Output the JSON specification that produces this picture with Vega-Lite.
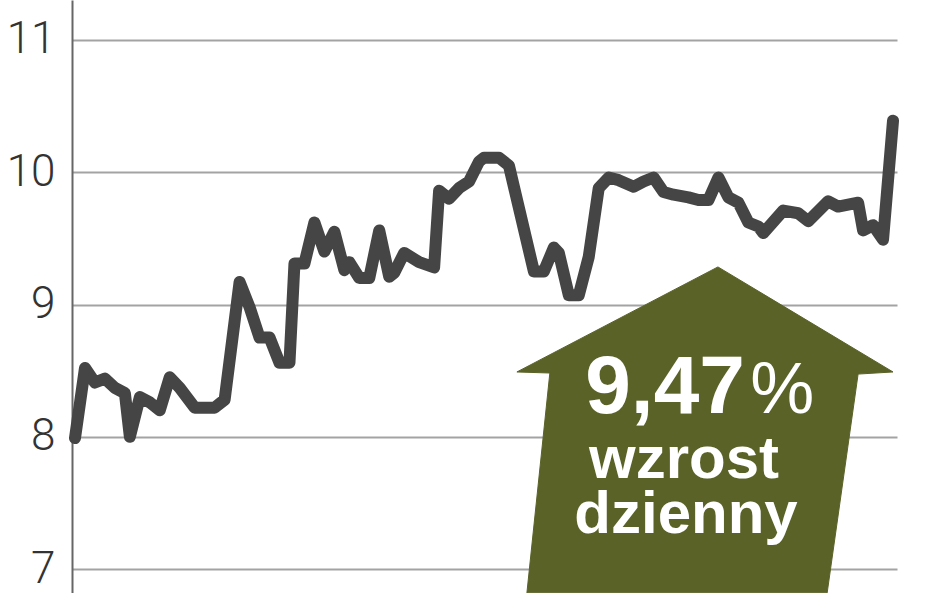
{
  "$schema": "https://vega.github.io/schema/vega-lite/v6.json",
  "width": 825,
  "height": 593,
  "autosize": {"type": "none"},
  "padding": {"left": 72, "right": 51, "top": 0, "bottom": 0},
  "background": "#ffffff",
  "config": {"view": {"stroke": null}},
  "datasets": {
    "prices": [
      {"day": 0, "value": 7.99}, {"day": 2, "value": 8.52}, {"day": 4, "value": 8.41}, {"day": 6, "value": 8.44},
      {"day": 8, "value": 8.37}, {"day": 10, "value": 8.33}, {"day": 11, "value": 8.0}, {"day": 13, "value": 8.3},
      {"day": 15, "value": 8.26}, {"day": 17, "value": 8.2}, {"day": 19, "value": 8.45}, {"day": 21, "value": 8.37},
      {"day": 24, "value": 8.22}, {"day": 28, "value": 8.22}, {"day": 30, "value": 8.28}, {"day": 33, "value": 9.17},
      {"day": 35, "value": 8.98}, {"day": 37, "value": 8.75}, {"day": 39, "value": 8.75}, {"day": 41, "value": 8.56},
      {"day": 43, "value": 8.56}, {"day": 44, "value": 9.31}, {"day": 46, "value": 9.31}, {"day": 48, "value": 9.62},
      {"day": 50, "value": 9.4}, {"day": 52, "value": 9.55}, {"day": 54, "value": 9.26}, {"day": 55, "value": 9.32},
      {"day": 57, "value": 9.2}, {"day": 59, "value": 9.2}, {"day": 61, "value": 9.56}, {"day": 63, "value": 9.21},
      {"day": 64, "value": 9.24}, {"day": 66, "value": 9.39}, {"day": 69, "value": 9.32}, {"day": 72, "value": 9.28},
      {"day": 73, "value": 9.86}, {"day": 75, "value": 9.8}, {"day": 77, "value": 9.88}, {"day": 79, "value": 9.93},
      {"day": 81, "value": 10.08}, {"day": 82, "value": 10.11}, {"day": 85, "value": 10.11}, {"day": 87, "value": 10.05},
      {"day": 92, "value": 9.25}, {"day": 94, "value": 9.25}, {"day": 96, "value": 9.43}, {"day": 97, "value": 9.39},
      {"day": 99, "value": 9.07}, {"day": 101, "value": 9.07}, {"day": 103, "value": 9.36}, {"day": 105, "value": 9.88},
      {"day": 107, "value": 9.96}, {"day": 109, "value": 9.94}, {"day": 112, "value": 9.89}, {"day": 114, "value": 9.93},
      {"day": 116, "value": 9.96}, {"day": 118, "value": 9.85}, {"day": 120, "value": 9.83}, {"day": 123, "value": 9.81},
      {"day": 125, "value": 9.79}, {"day": 127, "value": 9.79}, {"day": 129, "value": 9.96}, {"day": 131, "value": 9.81},
      {"day": 133, "value": 9.77}, {"day": 135, "value": 9.62}, {"day": 137, "value": 9.59}, {"day": 138, "value": 9.54},
      {"day": 142, "value": 9.71}, {"day": 145, "value": 9.69}, {"day": 147, "value": 9.63}, {"day": 151, "value": 9.78},
      {"day": 153, "value": 9.74}, {"day": 157, "value": 9.77}, {"day": 158, "value": 9.56}, {"day": 160, "value": 9.6},
      {"day": 162, "value": 9.49}, {"day": 164, "value": 10.39}
    ],
    "arrow": [
      {"i": 0, "day": 128.9, "value": 9.284},
      {"i": 1, "day": 164.0, "value": 8.49},
      {"i": 2, "day": 157.0, "value": 8.474},
      {"i": 3, "day": 150.8, "value": 6.82},
      {"i": 4, "day": 90.6, "value": 6.82},
      {"i": 5, "day": 95.2, "value": 8.482},
      {"i": 6, "day": 88.6, "value": 8.49},
      {"i": 7, "day": 128.9, "value": 9.284}
    ],
    "labels": [
      {"label": "9,47", "day": 118.3, "value": 8.18},
      {"label": "%", "day": 141.8, "value": 8.18},
      {"label": "wzrost", "day": 122.1, "value": 7.688},
      {"label": "dzienny", "day": 122.5, "value": 7.272}
    ]
  },
  "encoding": {
    "x": {"field": "day", "type": "quantitative", "scale": {"domain": [-0.6, 164.8], "nice": false, "zero": false}, "axis": null},
    "y": {
      "field": "value", "type": "quantitative",
      "scale": {"domain": [6.819, 11.302], "nice": false, "zero": false},
      "axis": {
        "values": [7, 8, 9, 10, 11], "title": null, "ticks": false, "labelPadding": 17,
        "labelFont": "Roboto", "labelFontWeight": 300, "labelFontSize": 44, "labelColor": "#333333",
        "labelBaseline": "middle", "labelAlign": "right", "labelBound": false,
        "domainColor": "#666666", "domainWidth": 2,
        "grid": true, "gridColor": "#a3a3a3", "gridWidth": 2
      }
    }
  },
  "layer": [
    {
      "data": {"name": "arrow"},
      "mark": {"type": "line", "fill": "#5b6228", "stroke": "#5b6228", "strokeWidth": 1, "interpolate": "linear"},
      "encoding": {"order": {"field": "i", "type": "quantitative"}}
    },
    {
      "data": {"name": "prices"},
      "mark": {"type": "line", "color": "#454545", "strokeWidth": 12, "strokeJoin": "round", "strokeCap": "round"},
      "encoding": {}
    },
    {
      "data": {"name": "labels"},
      "transform": [{"filter": "datum.label === '9,47'"}],
      "mark": {"type": "text", "font": "Liberation Sans", "fontWeight": "bold", "fontSize": 82, "color": "#ffffff", "align": "center", "baseline": "alphabetic"},
      "encoding": {"text": {"field": "label"}}
    },
    {
      "data": {"name": "labels"},
      "transform": [{"filter": "datum.label === '%'"}],
      "mark": {"type": "text", "font": "Liberation Sans", "fontWeight": "normal", "fontSize": 72, "color": "#ffffff", "align": "center", "baseline": "alphabetic"},
      "encoding": {"text": {"field": "label"}}
    },
    {
      "data": {"name": "labels"},
      "transform": [{"filter": "datum.label === 'wzrost' || datum.label === 'dzienny'"}],
      "mark": {"type": "text", "font": "Liberation Sans", "fontWeight": "bold", "fontSize": 60, "color": "#ffffff", "align": "center", "baseline": "alphabetic"},
      "encoding": {"text": {"field": "label"}}
    }
  ]
}
